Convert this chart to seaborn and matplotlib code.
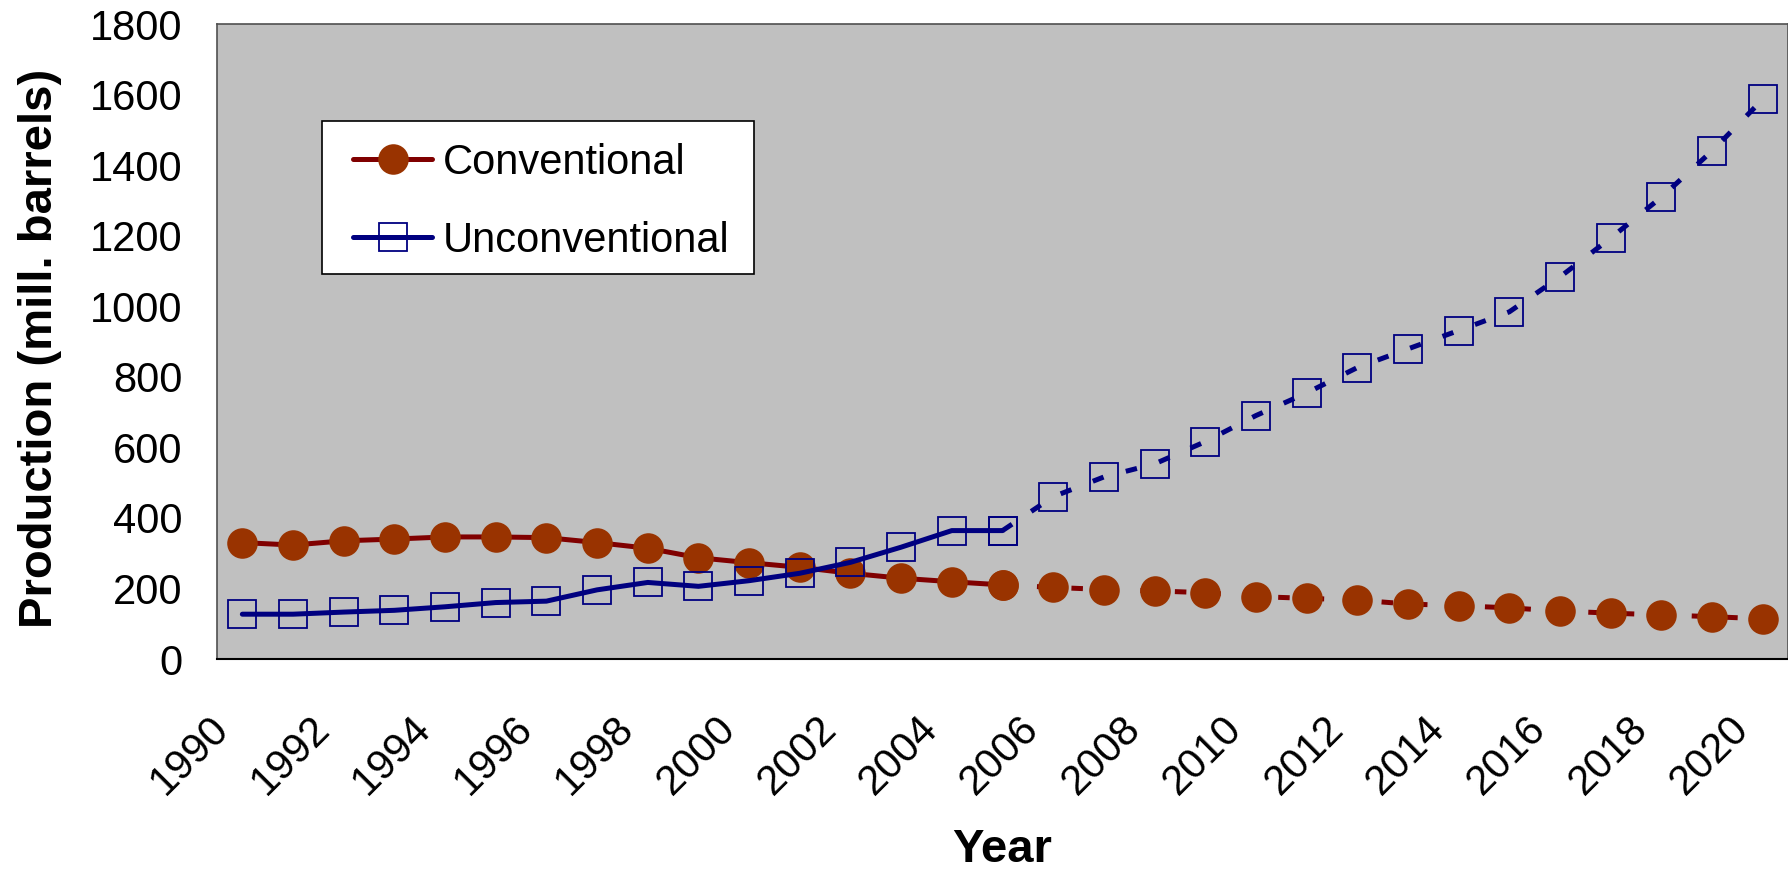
import matplotlib
matplotlib.use("Agg")
import matplotlib.pyplot as plt
from matplotlib.patches import Rectangle
from matplotlib.transforms import ScaledTranslation
import pandas as pd
import seaborn as sns

# ------------------------------
# DATA
# ------------------------------
years = list(range(1990, 2021))
conventional = [330, 323, 335, 340, 346, 346, 344, 330, 314, 287, 273, 260, 243, 229,
                219, 210, 203, 197, 193, 188, 177, 172, 167, 156, 151, 145, 136, 130,
                125, 120, 114]
unconventional = [127, 127, 133, 138, 148, 160, 164, 196, 217, 206, 222, 243, 274, 317,
                  364, 364, 460, 516, 553, 616, 690, 754, 826, 879, 931, 984, 1083, 1193,
                  1309, 1440, 1586]
split_year = 2005          # history solid, projection dashed
tick_years = years[::2]
y_ticks = list(range(0, 1801, 200))

sns.set_style("white")
plt.rcParams["font.family"] = ["Liberation Sans", "DejaVu Sans"]
plt.rcParams["text.color"] = "black"
plt.rcParams["axes.labelcolor"] = "black"

df = pd.DataFrame({"year": years, "idx": range(len(years)),
                   "Conventional": conventional, "Unconventional": unconventional})
hist = df[df["year"] <= split_year]
proj = df[df["year"] >= split_year]

fig, ax = plt.subplots(figsize=(17.88, 8.72), dpi=100)
fig.subplots_adjust(left=217 / 1788, right=1.0, bottom=1 - 659 / 872, top=1 - 24 / 872)
ax.set_facecolor("#c0c0c0")

styles = {
    "Conventional": dict(color="#800000", marker="o", markersize=22,
                         markerfacecolor="#993300", markeredgecolor="#993300",
                         markeredgewidth=0),
    "Unconventional": dict(color="#000080", marker="s", markersize=20.5,
                           markerfacecolor="none", markeredgecolor="#000080",
                           markeredgewidth=1.3),
}

handles = []
for name, st in styles.items():
    sns.lineplot(data=hist, x="idx", y=name, ax=ax, linewidth=3.6, **st)
    handles.append(ax.lines[-1])
    sns.lineplot(data=proj, x="idx", y=name, ax=ax, linewidth=3.6,
                 linestyle=(0, (2.3, 4.6)), **st)

ax.set_xlim(-0.5, len(years) - 0.5)
ax.set_ylim(0, 1800)
ax.set_yticks(y_ticks)
ax.set_yticklabels([str(v) for v in y_ticks])
ax.set_xticks([years.index(y) for y in tick_years])
ax.set_xticklabels([str(y) for y in tick_years], rotation=45, ha="right",
                   va="center", rotation_mode="anchor")
ax.tick_params(axis="x", length=0, pad=46, labelsize=30, labelcolor="black")
ax.tick_params(axis="y", length=0, pad=25, labelsize=30, labelcolor="black")
shift = ScaledTranslation(-20 / 100, 0, fig.dpi_scale_trans)
for lab in ax.get_xticklabels():
    lab.set_transform(lab.get_transform() + shift)

ax.set_xlabel("Year", fontsize=34, fontweight="bold")
ax.set_ylabel("Production (mill. barrels)", fontsize=34, fontweight="bold")
ax.xaxis.label.set_va("baseline")
ax.xaxis.set_label_coords(0.5, -(862 - 659) / 635)
ax.yaxis.set_label_coords(-(217 - 62) / 1571, 0.5 - 7 / 635)

for side in ["top", "left", "right"]:
    ax.spines[side].set_color("#505050")
    ax.spines[side].set_linewidth(1.2)
ax.spines["bottom"].set_color("black")
ax.spines["bottom"].set_linewidth(1.5)

# legend box drawn as a plain white rectangle, entries placed inside it
ax.add_patch(Rectangle(((322 - 217) / 1571, (659 - 274) / 635), 432 / 1571, 153 / 635,
                       transform=ax.transAxes, facecolor="white", edgecolor="black",
                       linewidth=1.2, zorder=4, clip_on=False))
leg = ax.legend(handles=handles, labels=list(styles), loc="upper left",
                bbox_to_anchor=((353 - 217) / 1571, (659 - 143) / 635),
                borderaxespad=0, frameon=False, fontsize=30, handlelength=1.9,
                handletextpad=0.25, labelspacing=0.9, borderpad=0)
leg.set_zorder(5)

fig.savefig("out.png", dpi=100)
